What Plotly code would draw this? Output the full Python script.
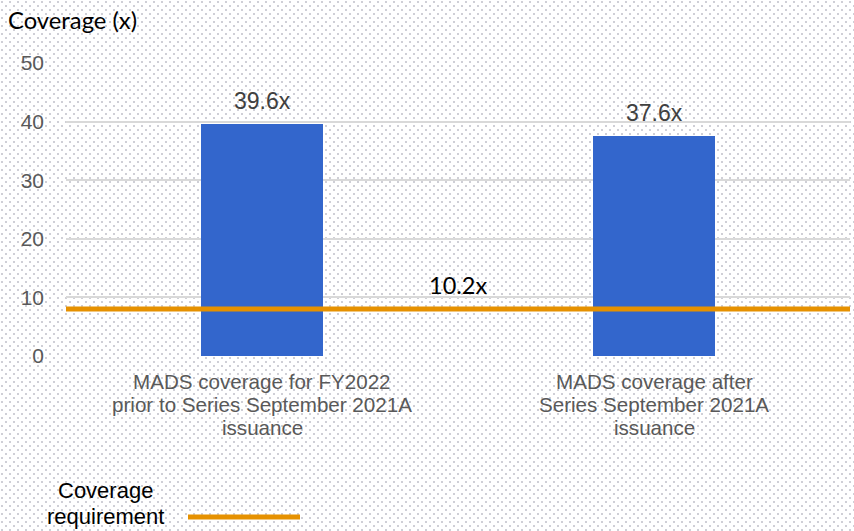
import base64
import plotly.graph_objects as go

# ---- data ----
categories = ["MADS coverage for FY2022", "MADS coverage after"]
category_lines = [
    ["MADS coverage for FY2022", "prior to Series September 2021A", "issuance"],
    ["MADS coverage after", "Series September 2021A", "issuance"],
]
coverage_values = [39.6, 37.6]
value_labels = ["39.6x", "37.6x"]
requirement_value = 8.0
requirement_label = "10.2x"
requirement_name_lines = ["Coverage", "requirement"]
y_ticks = [0, 10, 20, 30, 40, 50]

BLUE = "#3366CC"
ORANGE = "#E69100"

W, H = 854, 531
ML, MR, MT, MB = 66, 4, 63, 175
pw, ph = W - ML - MR, H - MT - MB


def px_x(x):
    return (x - ML) / pw


def px_y(y):
    return 1 - (y - MT) / ph


# dotted background pattern as an svg image
svg = f'''<svg xmlns="http://www.w3.org/2000/svg" width="{W}" height="{H}" viewBox="0 0 {W} {H}" preserveAspectRatio="none">
<defs><pattern id="p" width="8" height="8" patternUnits="userSpaceOnUse">
<rect x="1" y="1" width="2" height="2" fill="#cfcfd6"/>
<rect x="5" y="5" width="2" height="2" fill="#cfcfd6"/>
</pattern></defs>
<rect width="{W}" height="{H}" fill="white"/>
<rect width="{W}" height="{H}" fill="url(#p)"/>
</svg>'''
src = "data:image/svg+xml;base64," + base64.b64encode(svg.encode()).decode()

xpos = list(range(len(categories)))

fig = go.Figure()
fig.add_trace(go.Scatter(
    x=[-0.5, len(categories) - 0.5], y=[requirement_value] * 2,
    mode="lines", line=dict(color=ORANGE, width=5), showlegend=False,
    hoverinfo="skip"))
fig.add_trace(go.Bar(
    x=xpos, y=coverage_values, marker=dict(color=BLUE, line=dict(width=0)),
    width=0.31, showlegend=False))

for xi, v, lab in zip(xpos, coverage_values, value_labels):
    fig.add_annotation(x=xi, y=v, text=lab, showarrow=False, yanchor="middle",
                       yshift=23, font=dict(family="Liberation Sans", size=23, color="#404040"))

# category labels, one annotation per line for tight spacing
for xi, lines in zip(xpos, category_lines):
    for k, line in enumerate(lines):
        fig.add_annotation(x=xi, xref="x", yref="paper", y=px_y(381 + 23 * k),
                           text=line, showarrow=False, xanchor="center", yanchor="middle",
                           font=dict(family="Liberation Sans", size=20.6, color="#595959"))

fig.add_annotation(x=0.5, y=requirement_value, text=requirement_label, showarrow=False,
                   yanchor="middle", yshift=24,
                   font=dict(family="Lato", size=23.5, color="#000000"))

fig.add_annotation(xref="paper", yref="paper", x=px_x(6), y=px_y(20),
                   xanchor="left", yanchor="middle", text="Coverage (x)", showarrow=False,
                   font=dict(family="Lato", size=23.8, color="#000000"))

# legend (manual)
for k, line in enumerate(requirement_name_lines):
    fig.add_annotation(xref="paper", yref="paper", x=px_x(105), y=px_y(490 + 26 * k),
                       xanchor="center", yanchor="middle", text=line, showarrow=False,
                       font=dict(family="Liberation Sans", size=22, color="#000000"))
fig.add_shape(type="line", xref="paper", yref="paper",
              x0=px_x(188), x1=px_x(300), y0=px_y(517), y1=px_y(517),
              line=dict(color=ORANGE, width=5))

fig.add_layout_image(dict(source=src, xref="paper", yref="paper",
                          x=-ML / pw, y=1 + MT / ph, sizex=W / pw, sizey=H / ph,
                          xanchor="left", yanchor="top", sizing="stretch", layer="below"))

fig.update_layout(
    width=W, height=H,
    margin=dict(l=ML, r=MR, t=MT, b=MB),
    paper_bgcolor="white", plot_bgcolor="rgba(0,0,0,0)",
    xaxis=dict(range=[-0.5, len(categories) - 0.5], tickvals=xpos,
               ticktext=["" for _ in categories],
               showgrid=False, zeroline=False, showline=False, ticks=""),
    yaxis=dict(range=[0, 50], tickvals=y_ticks, showgrid=True, gridcolor="#d9d9d9",
               gridwidth=1.5, zeroline=False, showline=False, ticks="",
               ticklabelstandoff=21,
               tickfont=dict(family="Liberation Sans", size=21, color="#595959")),
    bargap=0,
)

fig.write_html("out.html", config={"displayModeBar": False},
               post_script="document.body.style.margin='0';")
